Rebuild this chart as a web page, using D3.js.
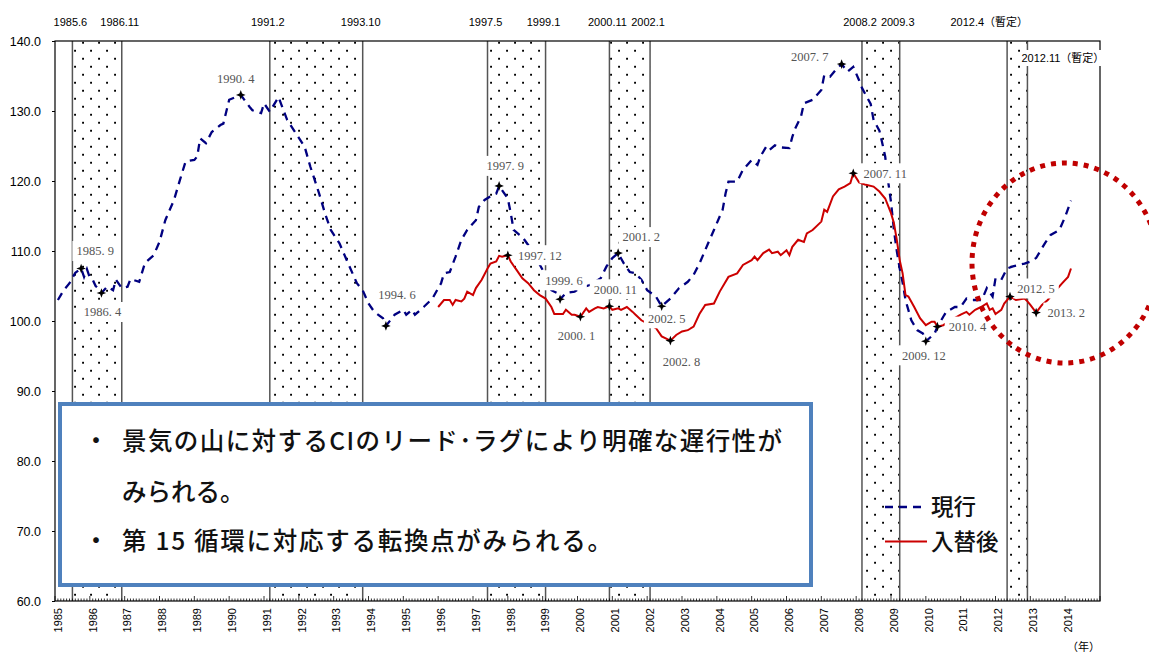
<!DOCTYPE html>
<html><head><meta charset="utf-8">
<script src="https://cdn.jsdelivr.net/npm/d3@7"></script>
<style>body{margin:0;background:#fff;} svg{display:block;}</style>
</head><body>
<svg id="chart" width="1149" height="653"></svg>
<script>
// ---------------- DATA ----------------
const currentDates = ["1985.1","1985.3","1985.5","1985.7","1985.8","1985.9","1985.10","1985.11","1985.12","1986.1","1986.2","1986.3","1986.4","1986.6","1986.8","1986.9","1986.11","1987.1","1987.2","1987.5","1987.7","1987.10","1987.12","1988.2","1988.5","1988.7","1988.9","1988.12","1989.1","1989.2","1989.4","1989.6","1989.9","1989.10","1989.12","1990.4","1990.7","1990.8","1990.11","1990.12","1991.2","1991.5","1991.8","1991.11","1992.2","1992.4","1992.7","1992.9","1992.11","1993.2","1993.5","1993.8","1993.10","1993.12","1994.2","1994.5","1994.6","1994.9","1994.12","1995.1","1995.3","1995.4","1995.7","1995.10","1996.1","1996.2","1996.4","1996.6","1996.8","1996.10","1996.11","1997.1","1997.2","1997.4","1997.6","1997.8","1997.9","1997.12","1998.1","1998.2","1998.4","1998.5","1998.8","1998.10","1998.12","1999.3","1999.5","1999.6","1999.8","1999.11","2000.1","2000.4","2000.8","2000.10","2000.12","2001.2","2001.4","2001.6","2001.8","2001.10","2001.12","2002.3","2002.5","2002.8","2002.11","2003.2","2003.4","2003.6","2003.9","2003.11","2004.2","2004.3","2004.4","2004.7","2004.9","2004.12","2005.2","2005.3","2005.5","2005.6","2005.8","2005.10","2006.1","2006.2","2006.3","2006.5","2006.6","2006.9","2006.12","2007.1","2007.3","2007.5","2007.7","2007.9","2007.11","2008.1","2008.2","2008.5","2008.6","2008.8","2008.9","2008.10","2008.11","2008.12","2009.1","2009.2","2009.3","2009.4","2009.5","2009.7","2009.9","2009.11","2009.12","2010.3","2010.4","2010.7","2010.10","2010.12","2011.2","2011.4","2011.7","2011.8","2011.9","2011.11","2011.12","2012.2","2012.4","2012.6","2012.10","2012.12","2013.2","2013.5","2013.7","2013.10","2013.12","2014.2"];
const currentValues = [103.0,104.4,105.4,106.9,107.2,107.5,106.3,107.4,106.2,105.9,105.0,104.6,104.0,104.9,104.4,105.9,104.7,104.9,106.0,105.6,108.3,109.4,111.3,114.4,117.3,120.1,122.8,123.0,123.5,126.1,125.4,127.0,128.0,128.2,131.6,132.3,130.6,130.1,129.7,131.1,129.9,132.0,128.7,126.8,124.9,122.0,118.2,115.4,113.0,111.1,108.2,105.4,104.4,102.5,101.3,100.4,99.3,100.9,101.6,100.9,101.6,100.9,102.0,103.2,105.4,106.8,107.0,109.2,111.6,113.0,113.5,114.4,116.3,117.3,117.8,118.2,119.3,117.5,115.4,113.0,112.3,112.0,110.3,108.8,107.3,104.4,104.0,103.1,104.0,104.2,104.7,105.1,106.1,107.8,109.0,109.7,108.2,107.0,106.8,105.9,104.4,103.5,102.1,103.2,104.7,105.6,106.6,108.2,111.1,113.0,115.9,118.2,119.9,119.9,121.6,123.0,122.3,123.5,124.9,124.4,125.1,124.8,124.7,126.3,127.5,129.2,131.1,131.6,133.0,135.1,134.9,135.9,136.7,135.6,136.3,134.4,133.3,131.0,128.7,127.2,125.4,123.5,120.0,117.0,113.0,110.0,107.5,105.5,103.0,100.1,98.7,98.2,97.1,98.2,99.2,101.3,102.0,102.0,103.2,103.0,103.0,103.7,104.7,103.5,106.1,105.9,107.5,107.8,108.2,108.5,109.0,111.1,112.3,113.0,114.9,117.2];

const newDates = ["1995.12","1996.2","1996.4","1996.5","1996.6","1996.8","1996.9","1996.10","1996.12","1997.1","1997.3","1997.5","1997.6","1997.8","1997.9","1997.10","1997.12","1998.1","1998.3","1998.5","1998.7","1998.9","1998.11","1999.1","1999.3","1999.4","1999.7","1999.8","1999.10","1999.11","2000.1","2000.3","2000.4","2000.6","2000.7","2000.9","2000.11","2000.12","2001.2","2001.3","2001.5","2001.7","2001.8","2001.10","2002.3","2002.5","2002.8","2002.10","2002.12","2003.2","2003.4","2003.6","2003.8","2003.11","2004.1","2004.4","2004.7","2004.9","2004.12","2005.1","2005.2","2005.4","2005.6","2005.7","2005.9","2005.10","2005.12","2006.1","2006.2","2006.4","2006.6","2006.7","2006.9","2006.12","2007.1","2007.2","2007.4","2007.6","2007.8","2007.10","2007.11","2008.1","2008.3","2008.6","2008.8","2008.10","2008.12","2009.1","2009.2","2009.3","2009.4","2009.5","2009.6","2009.8","2009.10","2009.12","2010.2","2010.3","2010.4","2010.6","2010.9","2010.12","2011.2","2011.3","2011.5","2011.7","2011.9","2011.10","2011.11","2011.12","2012.2","2012.3","2012.5","2012.7","2012.10","2012.11","2012.12","2013.2","2013.4","2013.6","2013.8","2013.11","2014.1","2014.2"];
const newValues = [102.0,103.0,103.0,102.3,103.0,102.8,103.2,104.2,103.7,104.7,105.9,107.5,108.2,108.5,109.3,109.2,109.4,108.5,107.3,106.1,105.4,104.4,103.7,103.2,102.0,101.0,101.0,101.6,100.9,100.9,100.6,101.8,101.3,101.8,102.0,101.8,102.1,101.6,101.8,101.6,102.0,101.3,100.9,100.1,99.0,97.8,97.2,98.0,98.5,98.7,99.2,101.0,102.3,102.5,104.2,106.3,106.8,108.0,108.7,109.2,108.7,109.7,110.2,109.7,109.9,109.4,110.1,109.4,110.6,111.6,111.3,112.5,113.0,114.2,115.9,115.6,117.8,118.8,119.2,119.7,121.1,119.8,119.5,119.2,118.5,117.5,115.4,114.0,111.6,108.7,106.8,103.7,103.5,102.0,100.4,99.4,99.9,99.9,99.2,99.4,100.2,100.9,101.3,100.9,101.6,102.0,102.5,101.6,101.8,101.0,101.6,102.5,103.5,103.0,103.2,102.8,102.3,101.2,102.3,103.0,104.0,105.4,106.3,107.5];

const currentTurns = ["1985.9","1986.4","1990.4","1994.6","1997.9","1999.6","2001.2","2002.5","2007.7","2009.12"];
const newTurns = ["1997.12","2000.1","2000.11","2002.8","2007.11","2010.4","2012.5","2013.2"];

const recessionStarts = ["1985.6","1991.2","1997.5","2000.11","2008.2","2012.4"];
const recessionEnds   = ["1986.11","1993.10","1999.1","2002.1","2009.3","2012.11"];
const bandLabelDates = ["1985.6","1986.11","1991.2","1993.10","1997.5","1999.1","2000.11","2002.1","2008.2","2009.3","2012.4","2012.11"];
const bandLabelTexts = ["1985.6","1986.11","1991.2","1993.10","1997.5","1999.1","2000.11","2002.1","2008.2","2009.3","2012.4（暫定）","2012.11（暫定）"];

const yTicks = [60,70,80,90,100,110,120,130,140];
const yearLabels = ["1985","1986","1987","1988","1989","1990","1991","1992","1993","1994","1995","1996","1997","1998","1999","2000","2001","2002","2003","2004","2005","2006","2007","2008","2009","2010","2011","2012","2013","2014"];
const seriesNames = ["現行","入替後"];
const noteLines = ["景気の山に対するCIのリード･ラグにより明確な遅行性が","みられる。","第 15 循環に対応する転換点がみられる。"];
const unitLabel = "（年）";

// ---------------- LAYOUT (positions / styles) ----------------
const currentLabelOffsets = [[14,-17.5],[1,19],[-5,-16.5],[11,-31],[6,-20],[4,-19],[23,-16],[5,12],[-32,-7],[-2,14]];
const newLabelOffsets = [[32,0],[-4,19],[6,-17],[11,21],[32,0],[30,0],[26,-8],[30,0]];

const L = 55, R = 1100, T = 41, B = 601;
const svg = d3.select("#chart");

const tOf = s => { const [yy, mm] = s.split(".").map(Number); return (yy - 1985) * 12 + mm; };
const x = d3.scaleLinear().domain([0, 360]).range([L, R]);
const y = d3.scaleLinear().domain([60, 140]).range([B, T]);

const cur = currentDates.map((d, i) => ({t: tOf(d), v: currentValues[i], d}));
const nw = newDates.map((d, i) => ({t: tOf(d), v: newValues[i], d}));

// dot pattern
const defs = svg.append("defs");
const pat = defs.append("pattern").attr("id", "dots").attr("patternUnits", "userSpaceOnUse")
  .attr("width", 16).attr("height", 16);
pat.append("rect").attr("x", 2.1).attr("y", 9.8).attr("width", 1.9).attr("height", 1.9).attr("fill", "#000");
pat.append("rect").attr("x", 10.1).attr("y", 1.8).attr("width", 1.9).attr("height", 1.9).attr("fill", "#000");

// recession bands
const bands = recessionStarts.map((s, i) => ({s: tOf(s), e: tOf(recessionEnds[i])}));
svg.append("g").selectAll("rect").data(bands).join("rect")
  .attr("x", d => x(d.s)).attr("y", T).attr("width", d => x(d.e) - x(d.s)).attr("height", B - T)
  .attr("fill", "url(#dots)");
const bandEdges = bands.flatMap(d => [d.s, d.e]);
svg.append("g").selectAll("line").data(bandEdges).join("line")
  .attr("x1", d => x(d)).attr("x2", d => x(d)).attr("y1", T).attr("y2", B)
  .attr("stroke", "#555").attr("stroke-width", 1.5);

// frame
svg.append("rect").attr("x", L).attr("y", T).attr("width", R - L).attr("height", B - T)
  .attr("fill", "none").attr("stroke", "#000").attr("stroke-width", 1.2);

// y axis
const yAxis = d3.axisLeft(y).tickValues(yTicks).tickFormat(d => d.toFixed(1)).tickSize(3).tickPadding(11);
const gy = svg.append("g").attr("transform", `translate(${L},0)`).call(yAxis);
gy.select(".domain").remove();
gy.selectAll("text").attr("font-family", "'Liberation Sans', Arial, sans-serif").attr("font-size", 12.5).attr("fill", "#000");
gy.selectAll("line").attr("stroke", "#000");

// x axis: month minor ticks (inward)
const monthTicks = d3.range(0, 361);
svg.append("g").selectAll("line").data(monthTicks).join("line")
  .attr("x1", d => x(d)).attr("x2", d => x(d))
  .attr("y1", B).attr("y2", d => B - (d % 12 === 0 ? 5 : 2.5))
  .attr("stroke", "#000").attr("stroke-width", 0.8);
// year labels (rotated)
svg.append("g").selectAll("text").data(yearLabels).join("text")
  .attr("transform", d => `translate(${x(tOf(d + ".1"))},608) rotate(-90)`)
  .attr("text-anchor", "end").attr("dy", "0.35em")
  .attr("font-family", "'Liberation Sans', Arial, sans-serif").attr("font-size", 11)
  .text(d => d);
svg.append("text").attr("x", 1100).attr("y", 651).attr("text-anchor", "end")
  .attr("font-family", "'Noto Sans CJK JP', sans-serif").attr("font-size", 11).text(unitLabel);

// series lines
const line = d3.line().x(d => x(d.t)).y(d => y(d.v));
svg.append("path").datum(cur).attr("d", line).attr("fill", "none")
  .attr("stroke", "#000080").attr("stroke-width", 2.3).attr("stroke-dasharray", "8 6");
svg.append("path").datum(nw).attr("d", line).attr("fill", "none")
  .attr("stroke", "#cc0000").attr("stroke-width", 2);

// turning point labels with white backgrounds
const fmt = s => { const [a, b] = s.split("."); return a + ". " + b; };
function addLabels(series, turns, offsets) {
  const g = svg.append("g");
  turns.forEach((tp, i) => {
    const p = series.find(d => d.d === tp);
    const cx = x(p.t) + offsets[i][0], cy = y(p.v) + offsets[i][1];
    const bg = g.append("rect").attr("fill", "#fff");
    const tx = g.append("text").attr("x", cx).attr("y", cy).attr("text-anchor", "middle")
      .attr("dy", "0.35em").attr("font-family", "'Liberation Serif', 'DejaVu Serif', serif")
      .attr("font-size", 12.5).attr("fill", "#555").text(fmt(tp));
    const w = tx.node().getComputedTextLength();
    bg.attr("x", cx - w / 2 - 4).attr("y", cy - 10).attr("width", w + 8).attr("height", 20);
  });
}
addLabels(cur, currentTurns, currentLabelOffsets);
addLabels(nw, newTurns, newLabelOffsets);

// markers
const star = "M0,-4.8L1.3,-1.3L4.8,0L1.3,1.3L0,4.8L-1.3,1.3L-4.8,0L-1.3,-1.3Z";
const turnPts = currentTurns.map(tp => cur.find(d => d.d === tp)).concat(newTurns.map(tp => nw.find(d => d.d === tp)));
svg.append("g").selectAll("path").data(turnPts).join("path")
  .attr("d", star).attr("transform", d => `translate(${x(d.t)},${y(d.v)})`).attr("fill", "#000");

// band top labels
const topFont = "'Liberation Sans', Arial, 'Noto Sans CJK JP', sans-serif";
bandLabelDates.forEach((d, i) => {
  const xx = x(tOf(d));
  if (i === bandLabelDates.length - 1) {
    const g = svg.append("g");
    const bg = g.append("rect").attr("fill", "#fff");
    const tx = g.append("text").attr("x", xx - 6).attr("y", 62).attr("font-family", topFont)
      .attr("font-size", 11).text(bandLabelTexts[i]);
    const w = tx.node().getComputedTextLength();
    bg.attr("x", xx - 6).attr("y", 50).attr("width", w + 2).attr("height", 16);
  } else if (i === bandLabelDates.length - 2) {
    svg.append("text").attr("x", xx + 21).attr("y", 26).attr("text-anchor", "end")
      .attr("font-family", topFont).attr("font-size", 11).text(bandLabelTexts[i]);
  } else {
    svg.append("text").attr("x", xx - 2).attr("y", 26).attr("text-anchor", "middle")
      .attr("font-family", topFont).attr("font-size", 11).text(bandLabelTexts[i]);
  }
});

// red dotted ellipse
svg.append("ellipse").attr("cx", 1065).attr("cy", 263).attr("rx", 93).attr("ry", 100)
  .attr("fill", "none").attr("stroke", "#c00000").attr("stroke-width", 5).attr("stroke-dasharray", "5 6");

// text box
svg.append("rect").attr("x", 60).attr("y", 404).attr("width", 751).attr("height", 181)
  .attr("fill", "#fff").attr("stroke", "#4f81bd").attr("stroke-width", 4);
const jp = "'Noto Sans CJK JP', 'Noto Sans', sans-serif";
const noteY = [441, 492, 541];
const noteLen = [660, null, 490];
noteLines.forEach((s, i) => {
  const t = svg.append("text").attr("x", 122).attr("y", noteY[i]).attr("dy", "0.36em")
    .attr("font-family", jp).attr("font-size", 24.5).attr("font-weight", 500).attr("fill", "#111").text(s);
  if (noteLen[i]) t.attr("textLength", noteLen[i]).attr("lengthAdjust", "spacing");
});
[441, 541].forEach(yy => svg.append("text").attr("x", 96).attr("y", yy).attr("dy", "0.36em")
  .attr("text-anchor", "middle").attr("font-family", jp).attr("font-size", 24.5).attr("font-weight", 500).attr("fill", "#111").text("・"));

// legend
const legY = [507, 541.5];
svg.append("line").attr("x1", 885).attr("x2", 922).attr("y1", legY[0]).attr("y2", legY[0])
  .attr("stroke", "#000080").attr("stroke-width", 2.3).attr("stroke-dasharray", "8 6");
svg.append("line").attr("x1", 885).attr("x2", 927).attr("y1", legY[1]).attr("y2", legY[1])
  .attr("stroke", "#cc0000").attr("stroke-width", 2);
seriesNames.forEach((n, i) => svg.append("text").attr("x", 931).attr("y", legY[i]).attr("dy", "0.36em")
  .attr("font-family", jp).attr("font-size", 22.5).attr("font-weight", 500).attr("fill", "#111").text(n));
</script>
</body></html>
